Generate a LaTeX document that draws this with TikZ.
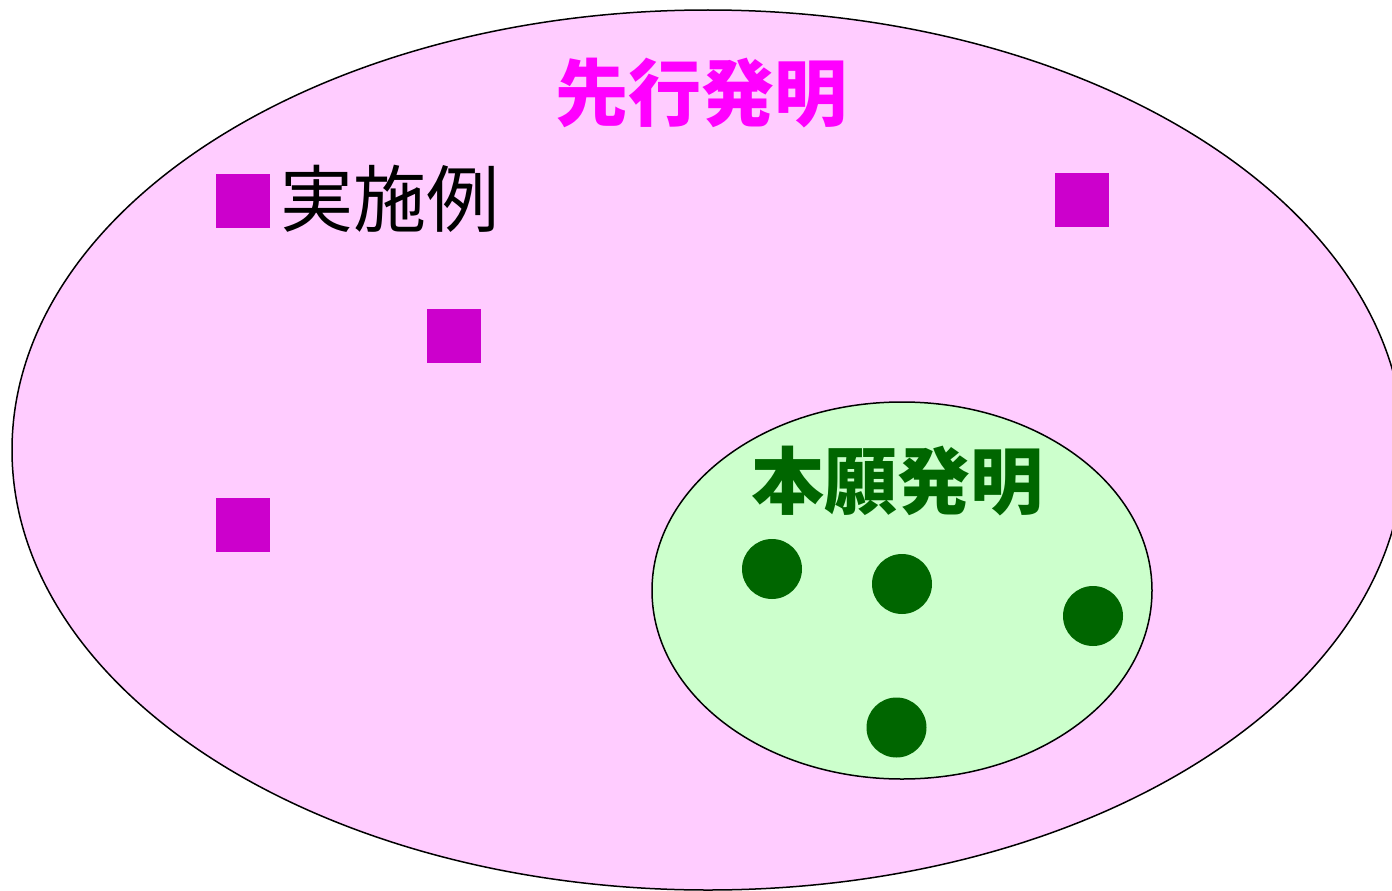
\documentclass[tikz,border=0pt]{standalone}
\usepackage{fontspec}
\newfontfamily\cjk{Noto Sans CJK JP}
\definecolor{outerfill}{HTML}{FFCCFF}
\definecolor{innerfill}{HTML}{CCFFCC}
\definecolor{sqcol}{HTML}{CC00CC}
\definecolor{titlemag}{HTML}{FF00FF}
\definecolor{dotgreen}{HTML}{006600}
\tikzset{
  setellipse/.style={draw=black, line width=1.5pt},
  sq/.style={fill=sqcol, draw=none},
  dot/.style={fill=dotgreen, draw=none},
  bigtext/.style={inner sep=0pt, font=\cjk\fontsize{73}{73}\selectfont},
}
\begin{document}
\begin{tikzpicture}[x=1pt, y=-1pt]
\useasboundingbox (0,0) rectangle (1392,891);
\fill[white] (0,0) rectangle (1392,891);
% outer set
\draw[setellipse, fill=outerfill] (708,450) ellipse [x radius=696, y radius=440];
\node[bigtext, text=titlemag, font=\cjk\bfseries\fontsize{73}{73}\selectfont] (prior) at (701.5,93.5) {先行発明};
\node[bigtext, text=black] (emb) at (390,198.5) {実施例};
% squares
\fill[sq] (216,174) rectangle (270,228);
\fill[sq] (1055,173) rectangle (1109,227);
\fill[sq] (427,309) rectangle (481,363);
\fill[sq] (216,498) rectangle (270,552);
% inner set
\draw[setellipse, fill=innerfill] (902,590.5) ellipse [x radius=250, y radius=188.5];
\node[bigtext, text=dotgreen, font=\cjk\bfseries\fontsize{73}{73}\selectfont] (inv) at (897.5,481) {本願発明};
% dots
\fill[dot] (772,569) circle [radius=30];
\fill[dot] (902,584) circle [radius=30];
\fill[dot] (1093,616) circle [radius=30];
\fill[dot] (896.5,727.5) circle [radius=30];
\end{tikzpicture}
\end{document}
